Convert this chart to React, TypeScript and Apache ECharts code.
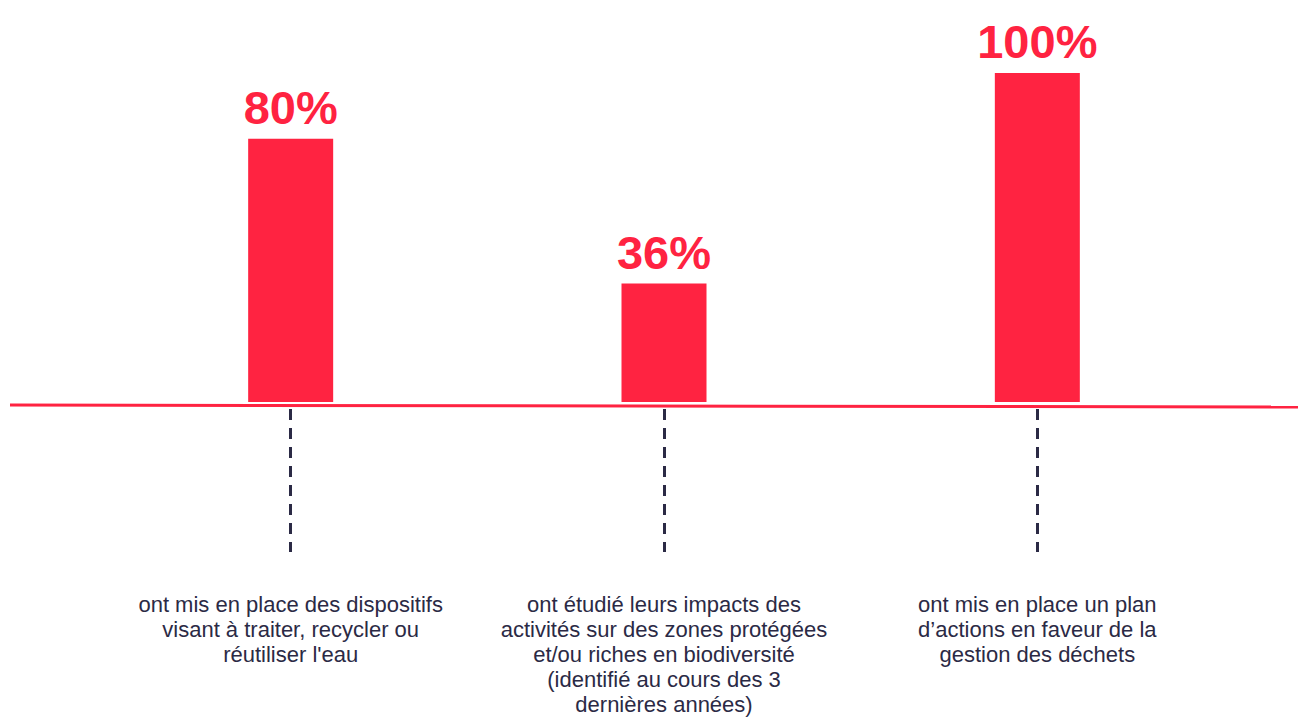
import React, { useEffect, useRef } from "react";
import * as echarts from "echarts";

const categories = [
  "ont mis en place des dispositifs\nvisant à traiter, recycler ou\nréutiliser l'eau",
  "ont étudié leurs impacts des\nactivités sur des zones protégées\net/ou riches en biodiversité\n(identifié au cours des 3\ndernières années)",
  "ont mis en place un plan\nd’actions en faveur de la\ngestion des déchets",
];
const values = [80, 36, 100];

const RED = "#FF2341";
const TEXT = "#2B2A45";

export default function App() {
  const ref = useRef<HTMLDivElement>(null);
  useEffect(() => {
    document.body.style.margin = "0";
    const chart = echarts.init(ref.current!, null, { renderer: "svg" });
    chart.setOption({
      animation: false,
      grid: { left: 104, width: 1120, top: 73, bottom: 312 },
      xAxis: {
        type: "category",
        data: categories,
        axisLine: { show: false },
        axisTick: {
          show: true,
          alignWithLabel: true,
          length: 150,
          lineStyle: { color: TEXT, width: 3, type: [11, 8], dashOffset: 12 },
        },
        axisLabel: {
          interval: 0,
          margin: 190,
          fontSize: 22,
          lineHeight: 25,
          color: TEXT,
          fontFamily: "Liberation Sans",
          align: "center",
        },
      },
      yAxis: {
        type: "value",
        min: 0,
        max: 100,
        show: false,
        splitLine: { show: false },
      },
      series: [
        {
          type: "bar",
          data: values,
          barWidth: 85,
          itemStyle: { color: RED },
          label: {
            show: true,
            position: "top",
            distance: 8,
            formatter: "{c}%",
            color: RED,
            fontSize: 47,
            fontWeight: "bold",
            fontFamily: "Liberation Sans",
          },
        },
      ],
      graphic: [
        {
          type: "line",
          shape: { x1: 10, y1: 405, x2: 1298, y2: 407 },
          style: { stroke: RED, lineWidth: 3 },
          z: 10,
        },
      ],
    });
    return () => chart.dispose();
  }, []);
  return <div ref={ref} style={{ width: 1298, height: 717 }} />;
}
